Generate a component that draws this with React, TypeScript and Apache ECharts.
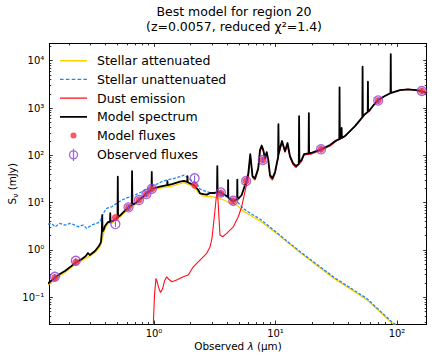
import { useEffect, useRef } from 'react';
import * as echarts from 'echarts';

const FONT = '"DejaVu Sans", "Liberation Sans", sans-serif';

// Axis limits (data units)
const xLimits = [0.1375, 175.6]; // µm
const yLimits = [0.02725, 23220]; // mJy

const xTickExponents = [0, 1, 2];
const xTickLabels = ['10⁰', '10¹', '10²'];
const yTickExponents = [-1, 0, 1, 2, 3, 4];
const yTickLabels = ['10⁻¹', '10⁰', '10¹', '10²', '10³', '10⁴'];

// Photometry
const filterWavelengths = [0.1528, 0.2271, 0.481, 0.617, 0.752, 0.866, 0.962, 2.16, 3.55, 4.49, 5.73, 7.87, 23.7, 70, 160];
const modelFluxes = [0.26, 0.555, 4.84, 7.95, 11.35, 15.2, 19.7, 23.5, 16.0, 10.9, 28.6, 79.6, 134, 1442, 2287];
const observedFluxes = [0.271, 0.591, 3.53, 7.96, 11.35, 15.2, 19.7, 32.7, 16.4, 10.96, 28.6, 79.6, 134, 1442, 2287];
const observedErrors = [0.038, 0.083, 0.49, 1.1, 1.6, 2.1, 2.8, 4.6, 2.3, 1.5, 4.0, 11, 19, 200, 320];

// Spectra: [wavelength µm, flux mJy]
const stellarAttenuated = [
  [0.134, 0.181], [0.1532, 0.237], [0.1683, 0.281], [0.1851, 0.333], [0.2036, 0.404], [0.228, 0.516],
  [0.2555, 0.597], [0.2756, 0.674], [0.2973, 0.743], [0.3268, 0.881], [0.3527, 1.1], [0.3663, 1.33],
  [0.3804, 1.97], [0.3952, 2.9], [0.418, 3.61], [0.4486, 3.7], [0.4775, 4.08], [0.5251, 4.96],
  [0.5771, 6.33], [0.6167, 7.32], [0.6977, 8.9], [0.7484, 10.55], [0.8163, 12.5], [0.8595, 14.5],
  [0.9627, 18.0], [1.121, 20.4], [1.406, 22.4], [1.637, 25.3], [1.766, 26.6], [1.978, 23.5],
  [2.154, 20.9], [2.315, 16.7], [2.546, 13.8], [2.89, 13.5], [3.281, 12.8], [3.841, 11.1],
  [4.223, 9.81], [4.795, 8.9], [5.433, 6.64], [6.17, 5.47], [7.455, 4.08], [9.01, 2.83],
  [10.23, 2.22], [15.91, 0.881], [29.9, 0.257], [56.3, 0.0894], [90.4, 0.0289], [187, 0.00711],
];

const stellarUnattenuated = [
  [0.134, 3.53], [0.1439, 3.65], [0.1532, 3.09], [0.1683, 3.65], [0.1851, 3.36], [0.2036, 3.65],
  [0.2238, 3.36], [0.2383, 3.09], [0.262, 3.36], [0.2793, 2.86], [0.307, 3.36], [0.3376, 3.65],
  [0.3594, 3.95], [0.3825, 5.94], [0.408, 7.57], [0.4487, 8.19], [0.4932, 9.67], [0.5422, 11.35],
  [0.6143, 12.9], [0.6977, 14.5], [0.7922, 17.0], [0.8977, 20.1], [1.019, 23.5], [1.157, 27.7],
  [1.272, 30.0], [1.489, 33.1], [1.637, 35.3], [1.766, 38.3], [1.978, 31.1], [2.246, 25.6],
  [2.391, 19.4], [2.715, 17.0], [3.281, 15.3], [3.967, 13.3], [4.795, 10.8], [5.433, 7.5],
  [6.17, 6.03], [7.455, 4.5], [9.01, 3.05], [10.23, 2.33], [15.91, 0.925], [29.9, 0.27],
  [56.3, 0.0948], [90.4, 0.0303], [187, 0.00765],
];

const dustEmission = [
  [0.9775, 0.0047], [0.9906, 0.033], [1.0095, 0.111], [1.0386, 0.251], [1.0645, 0.21], [1.0889, 0.164],
  [1.131, 0.126], [1.175, 0.149], [1.22, 0.22], [1.272, 0.271], [1.329, 0.237], [1.406, 0.213],
  [1.537, 0.231], [1.742, 0.271], [1.915, 0.295], [2.106, 0.441], [2.391, 0.612], [2.715, 0.848],
  [2.89, 1.15], [3.002, 1.785], [3.117, 4.29], [3.208, 8.9], [3.269, 14.5], [3.319, 16.35],
  [3.363, 11.35], [3.428, 4.73], [3.493, 2.07], [3.677, 1.9], [3.967, 2.24], [4.495, 3.09],
  [4.941, 5.04], [5.27, 8.19], [5.505, 13.8], [5.79, 24.7], [5.996, 36.5], [6.2, 99],
  [6.47, 33.9], [6.78, 30.0], [7.21, 48.9], [7.45, 117], [7.7, 150], [7.94, 120], [8.2, 81.5],
  [8.47, 109], [8.73, 73.9], [9.01, 34.8], [9.44, 30.0], [9.91, 40.2], [10.29, 65.5], [10.79, 117],
  [11.31, 191], [11.97, 115], [12.56, 157], [13.16, 89.8], [13.93, 63.9], [14.75, 55.2],
  [16.37, 73.9], [17.17, 101], [18.17, 104], [19.6, 106], [21.1, 115], [23.7, 128], [28.1, 157],
  [31.5, 199], [34.6, 226], [37.3, 251], [41.0, 321], [45.1, 410], [49.6, 549], [53.5, 700],
  [58.9, 855], [64.7, 1173], [70.0, 1462], [78.1, 1741], [91.0, 2115], [105.9, 2388],
  [123.2, 2473], [143.3, 2388], [158.5, 2277], [176.6, 2065],
];

const modelSpectrum = [
  [0.134, 0.195], [0.153, 0.26], [0.168, 0.31], [0.185, 0.358], [0.204, 0.435], [0.228, 0.555],
  [0.255, 0.642], [0.275, 0.743], [0.286, 0.86], [0.297, 0.78], [0.327, 0.949], [0.352, 1.21],
  [0.366, 1.47], [0.372, 2.39], [0.3748, 5.47], [0.3775, 2.45], [0.388, 2.77], [0.395, 3.2],
  [0.418, 3.89], [0.4345, 3.95], [0.4366, 6.0], [0.439, 3.96], [0.449, 3.98], [0.478, 4.39],
  [0.501, 4.9], [0.5036, 35.3], [0.506, 4.95], [0.525, 5.34], [0.577, 6.81], [0.617, 7.95],
  [0.656, 8.9], [0.66, 46.6], [0.664, 9.0], [0.698, 9.67], [0.748, 11.35], [0.817, 13.3],
  [0.859, 15.6], [0.901, 17.2], [0.954, 19.1], [0.9586, 44.4], [0.963, 19.4], [1.019, 20.4],
  [1.12, 21.9], [1.282, 23.4], [1.289, 28.6], [1.296, 23.5], [1.406, 24.7], [1.637, 27.7],
  [1.765, 29.0], [1.877, 27.5], [1.886, 36.5], [1.895, 27.0], [1.977, 25.6], [2.155, 23.0],
  [2.315, 18.5], [2.391, 15.7], [2.546, 15.2], [2.73, 14.8], [2.89, 16.0], [3.12, 16.0],
  [3.3, 16.5], [3.32, 59.4], [3.34, 17.0], [3.43, 16.7], [3.56, 16.3], [3.84, 14.5],
  [4.06, 13.5], [4.075, 30.0], [4.09, 12.8], [4.3, 11.35], [4.55, 10.8], [4.83, 11.8],
  [4.85, 30.8], [4.87, 12.0], [4.96, 12.2], [5.27, 14.5], [5.61, 23.5], [5.77, 28.6],
  [5.97, 41.2], [6.2, 106], [6.47, 36.5], [6.78, 32.6], [7.21, 53.1], [7.45, 129], [7.7, 161],
  [7.94, 129], [8.2, 87.7], [8.47, 117], [8.73, 79.5], [9.01, 38.3], [9.44, 33.1], [9.91, 44.4],
  [10.29, 72.1], [10.5, 90], [10.57, 459], [10.64, 110], [10.79, 129], [11.31, 201], [11.97, 123],
  [12.56, 182], [13.16, 96.6], [13.93, 68.7], [14.75, 59.4], [15.55, 66], [15.64, 677],
  [15.73, 72], [16.37, 79.5], [17.17, 106], [18.17, 109], [18.72, 110], [18.82, 784],
  [18.92, 111], [19.6, 112], [21.1, 120], [23.7, 134], [28.1, 165], [31.5, 206], [33.5, 220],
  [33.67, 2737], [33.85, 222], [34.85, 232], [35.01, 378], [35.17, 234], [37.3, 256], [41.0, 326],
  [45.1, 416], [49.6, 557], [51.85, 640], [52.1, 7460], [52.35, 650], [53.5, 711], [57.4, 830],
  [57.65, 3593], [57.9, 845], [58.9, 864], [64.7, 1185], [70.0, 1476], [78.1, 1750],
  [88.45, 2080], [88.86, 13800], [89.25, 2090], [91.0, 2125], [105.9, 2400], [123.2, 2485],
  [143.3, 2400], [158.5, 2287], [176.6, 2075],
];

const GOLD = '#ffd000';
const BLUE = '#1f85f2';
const RED = '#ff0d1a';
const STRAWBERRY = '#fb2943';
const PURPLE = '#8e3fd0';
const INDIGO = '#7050cc';

const lg = Math.log10;
const toXY = (pairs: number[][]) => pairs.map(([l, s]) => [lg(l), lg(s)]);

const minorTicks = (lo: number, hi: number) => {
  const out: number[] = [];
  for (let n = Math.floor(lo); n <= Math.ceil(hi); n++) {
    for (let k = 2; k <= 9; k++) {
      const v = n + Math.log10(k);
      if (v > lo && v < hi) out.push(v);
    }
  }
  return out;
};

const LINE_ICON = 'path://M0,0L0.01,0M27,14L26.99,14M0,6.3L27,6.3L27,7.7L0,7.7Z';
const DASH_ICON =
  'path://M0,0L0.01,0M27,14L26.99,14' +
  'M0,6.3L3.6,6.3L3.6,7.7L0,7.7Z' +
  'M5.85,6.3L9.45,6.3L9.45,7.7L5.85,7.7Z' +
  'M11.7,6.3L15.3,6.3L15.3,7.7L11.7,7.7Z' +
  'M17.55,6.3L21.15,6.3L21.15,7.7L17.55,7.7Z' +
  'M23.4,6.3L27,6.3L27,7.7L23.4,7.7Z';
const DOT_ICON = 'path://M0,0L0.01,0M14,14L13.99,14M4,7A3,3,0,1,0,10,7A3,3,0,1,0,4,7Z';
const OBS_ICON = 'path://M0,0L0.01,0M14,14L13.99,14M3,7A4,4,0,1,0,11,7A4,4,0,1,0,3,7M7,0.8L7,13.2';

function buildOption() {
  const X0 = lg(xLimits[0]);
  const X1 = lg(xLimits[1]);
  const Y0 = lg(yLimits[0]);
  const Y1 = lg(yLimits[1]);
  const xMinor = minorTicks(X0, X1);
  const yMinor = minorTicks(Y0, Y1);

  const axisBase = (min: number, max: number, position: string, values: number[], len: number, withLine: boolean) => ({
    type: 'value',
    min,
    max,
    position,
    axisLine: { show: withLine, onZero: false, lineStyle: { color: '#000', width: 1 } },
    axisTick: { show: true, inside: true, length: len, customValues: values, lineStyle: { color: '#000', width: 0.8 } },
    axisLabel: { show: false },
    splitLine: { show: false },
    axisPointer: { show: false },
    silent: true,
  });

  const tickLabelStyle = { fontFamily: FONT, fontSize: 10, color: '#000' };

  return {
    animation: false,
    backgroundColor: '#fff',
    title: {
      text: 'Best model for region 20\n(z=0.0057, reduced χ²=1.4)',
      left: 234,
      top: 4,
      padding: 0,
      textAlign: 'center',
      textStyle: { fontFamily: FONT, fontSize: 12.5, fontWeight: 'normal', color: '#000', lineHeight: 15.3 },
    },
    grid: { left: 49.3, right: 9.3, top: 43.4, bottom: 35, containLabel: false, outerBoundsMode: 'none' },
    legend: {
      orient: 'vertical',
      left: 60,
      top: 53.7,
      itemWidth: 27,
      itemHeight: 14,
      itemGap: 4.7,
      padding: 0,
      selectedMode: false,
      itemStyle: { borderWidth: 0 },
      textStyle: { fontFamily: FONT, fontSize: 12.5, color: '#000', lineHeight: 14, padding: [0, 0, 0, 5] },
      data: [
        { name: 'Stellar attenuated', icon: LINE_ICON, itemStyle: { color: GOLD, borderWidth: 0 } },
        { name: 'Stellar unattenuated', icon: DASH_ICON, itemStyle: { color: BLUE, borderWidth: 0 } },
        { name: 'Dust emission', icon: LINE_ICON, itemStyle: { color: RED, borderWidth: 0 } },
        { name: 'Model spectrum', icon: 'path://M0,0L0.01,0M27,14L26.99,14M0,6.1L27,6.1L27,7.9L0,7.9Z', itemStyle: { color: '#000', borderWidth: 0 } },
        { name: 'Model fluxes', icon: DOT_ICON, itemStyle: { color: STRAWBERRY, borderWidth: 0 } },
        {
          name: 'Observed fluxes',
          icon: OBS_ICON,
          itemStyle: { color: 'rgba(0,0,0,0)', borderColor: PURPLE, borderWidth: 1.3 },
        },
      ],
    },
    xAxis: [
      {
        ...axisBase(X0, X1, 'bottom', xTickExponents, 3.5, true),
        axisLabel: {
          show: true,
          customValues: xTickExponents,
          margin: 4,
          formatter: (v: number) => xTickLabels[xTickExponents.indexOf(Math.round(v))] ?? '',
          ...tickLabelStyle,
        },
        name: '{a|Observed }{i|λ}{a| (μm)}',
        nameLocation: 'middle',
        nameGap: 17,
        nameMoveOverlap: false,
        nameTextStyle: {
          fontFamily: FONT,
          fontSize: 10.4,
          color: '#000',
          rich: {
            a: { fontFamily: FONT, fontSize: 10.4, color: '#000' },
            i: { fontFamily: FONT, fontSize: 10.4, fontStyle: 'italic', color: '#000' },
          },
        },
      },
      axisBase(X0, X1, 'bottom', xMinor, 2, false),
      axisBase(X0, X1, 'top', xTickExponents, 3.5, true),
      axisBase(X0, X1, 'top', xMinor, 2, false),
    ],
    yAxis: [
      {
        ...axisBase(Y0, Y1, 'left', yTickExponents, 3.5, true),
        axisLabel: {
          show: true,
          customValues: yTickExponents,
          margin: 5,
          formatter: (v: number) => yTickLabels[yTickExponents.indexOf(Math.round(v))] ?? '',
          ...tickLabelStyle,
        },
        name: '{a|S}{b|ν}{a| (mJy)}',
        nameLocation: 'middle',
        nameGap: 30,
        nameMoveOverlap: false,
        nameTextStyle: {
          fontFamily: FONT,
          fontSize: 10.4,
          color: '#000',
          rich: {
            a: { fontFamily: FONT, fontSize: 10.4, lineHeight: 14, color: '#000' },
            b: { fontFamily: FONT, fontSize: 7.5, lineHeight: 8, verticalAlign: 'bottom', color: '#000' },
          },
        },
      },
      axisBase(Y0, Y1, 'left', yMinor, 2, false),
      axisBase(Y0, Y1, 'right', yTickExponents, 3.5, true),
      axisBase(Y0, Y1, 'right', yMinor, 2, false),
    ],
    series: [
      {
        type: 'line',
        name: 'Stellar attenuated',
        data: toXY(stellarAttenuated),
        symbol: 'none',
        lineStyle: { color: GOLD, width: 1.3 },
        itemStyle: { color: GOLD },
        z: 2,
        silent: true,
      },
      {
        type: 'line',
        name: 'Stellar unattenuated',
        data: toXY(stellarUnattenuated),
        symbol: 'none',
        lineStyle: { color: BLUE, width: 1.3, type: [3, 1.6] },
        itemStyle: { color: BLUE },
        z: 3,
        silent: true,
      },
      {
        type: 'line',
        name: 'Dust emission',
        data: toXY(dustEmission),
        symbol: 'none',
        lineStyle: { color: RED, width: 1.1 },
        itemStyle: { color: RED },
        z: 4,
        silent: true,
      },
      {
        type: 'line',
        name: 'Model spectrum',
        data: toXY(modelSpectrum),
        symbol: 'none',
        lineStyle: { color: '#000', width: 1.8, join: 'round' },
        itemStyle: { color: '#000' },
        z: 5,
        silent: true,
      },
      {
        type: 'scatter',
        name: 'Model fluxes',
        data: filterWavelengths.map((l, i) => [lg(l), lg(modelFluxes[i])]),
        symbol: 'circle',
        symbolSize: 7,
        itemStyle: { color: STRAWBERRY },
        z: 6,
        silent: true,
      },
      {
        type: 'custom',
        name: 'Observed flux errors',
        data: filterWavelengths.map((l, i) => [
          lg(l),
          lg(observedFluxes[i] - observedErrors[i]),
          lg(observedFluxes[i] + observedErrors[i]),
        ]),
        encode: { x: 0, y: [1, 2] },
        renderItem: (_params: any, api: any) => {
          const p1 = api.coord([api.value(0), api.value(1)]);
          const p2 = api.coord([api.value(0), api.value(2)]);
          return {
            type: 'line',
            shape: { x1: p1[0], y1: p1[1], x2: p2[0], y2: p2[1] },
            style: { stroke: INDIGO, lineWidth: 1 },
          };
        },
        z: 7,
        silent: true,
      },
      {
        type: 'scatter',
        name: 'Observed fluxes',
        data: filterWavelengths.map((l, i) => [lg(l), lg(observedFluxes[i])]),
        symbol: 'circle',
        symbolSize: 9,
        itemStyle: { color: 'rgba(0,0,0,0)', borderColor: PURPLE, borderWidth: 1.3 },
        z: 7,
        silent: true,
      },
    ],
  };
}

export default function App() {
  const ref = useRef<HTMLDivElement>(null);
  useEffect(() => {
    document.body.style.margin = '0';
    const chart = echarts.init(ref.current!, null, { renderer: 'svg' });
    chart.setOption(buildOption() as any);
    return () => chart.dispose();
  }, []);
  return <div ref={ref} style={{ position: 'absolute', left: 0, top: 0, width: 436, height: 359 }} />;
}
